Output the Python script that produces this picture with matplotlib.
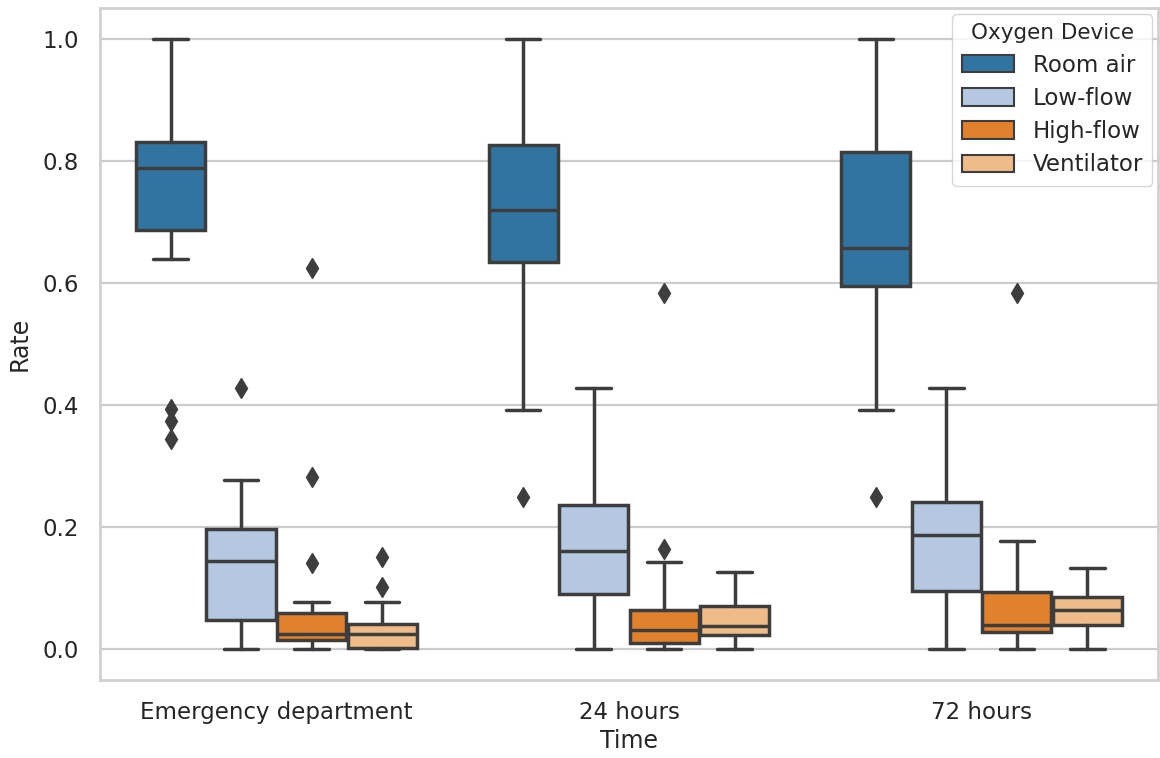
import matplotlib

matplotlib.use("Agg")
import matplotlib.pyplot as plt
import seaborn as sns

# categorías y valores (mediana, cuartiles, bigotes, outliers)
times = ["Emergency department", "24 hours", "72 hours"]
devices = ["Room air", "Low-flow", "High-flow", "Ventilator"]

room_air_med = [0.788, 0.720, 0.657]
room_air_q1 = [0.687, 0.635, 0.595]
room_air_q3 = [0.831, 0.826, 0.815]
room_air_lo = [0.639, 0.392, 0.392]
room_air_hi = [1.0, 1.0, 1.0]
room_air_out = [[0.394, 0.374, 0.345], [0.249], [0.249]]

low_flow_med = [0.145, 0.161, 0.188]
low_flow_q1 = [0.048, 0.090, 0.096]
low_flow_q3 = [0.197, 0.236, 0.242]
low_flow_lo = [0.0, 0.0, 0.0]
low_flow_hi = [0.277, 0.428, 0.428]
low_flow_out = [[0.428], [], []]

high_flow_med = [0.026, 0.031, 0.040]
high_flow_q1 = [0.016, 0.011, 0.029]
high_flow_q3 = [0.060, 0.064, 0.094]
high_flow_lo = [0.0, 0.0, 0.0]
high_flow_hi = [0.077, 0.143, 0.178]
high_flow_out = [[0.624, 0.282, 0.142], [0.583, 0.165], [0.583]]

vent_med = [0.026, 0.039, 0.064]
vent_q1 = [0.002, 0.023, 0.040]
vent_q3 = [0.042, 0.071, 0.086]
vent_lo = [0.0, 0.0, 0.0]
vent_hi = [0.078, 0.127, 0.134]
vent_out = [[0.151, 0.102], [], []]

series = [
    (room_air_med, room_air_q1, room_air_q3, room_air_lo, room_air_hi, room_air_out),
    (low_flow_med, low_flow_q1, low_flow_q3, low_flow_lo, low_flow_hi, low_flow_out),
    (high_flow_med, high_flow_q1, high_flow_q3, high_flow_lo, high_flow_hi, high_flow_out),
    (vent_med, vent_q1, vent_q3, vent_lo, vent_hi, vent_out),
]

sns.set_theme(style="whitegrid")
colors = sns.color_palette("tab20", 4, desat=0.75)
gray = "#3d3d3d"
text_color = "#262626"

fig = plt.figure(figsize=(11.6, 7.58), dpi=100)
ax = fig.add_axes([0.0862, 0.103, 0.912, 0.886])

group_width = 0.8
each = group_width / len(devices)
offsets = [-group_width / 2 + each * (k + 0.5) for k in range(len(devices))]

for k, (med, q1, q3, lo, hi, out) in enumerate(series):
    stats = []
    for i in range(len(times)):
        stats.append({
            "med": med[i], "q1": q1[i], "q3": q3[i],
            "whislo": lo[i], "whishi": hi[i], "fliers": out[i],
        })
    positions = [i + offsets[k] for i in range(len(times))]
    ax.bxp(
        stats,
        positions=positions,
        widths=each * 0.98,
        patch_artist=True,
        manage_ticks=False,
        boxprops=dict(facecolor=colors[k], edgecolor=gray, linewidth=2.5),
        medianprops=dict(color=gray, linewidth=2.5),
        whiskerprops=dict(color=gray, linewidth=2.5),
        capprops=dict(color=gray, linewidth=2.5),
        flierprops=dict(marker="d", markerfacecolor=gray, markeredgecolor=gray,
                        markersize=10.5),
    )

ax.set_xlim(-0.5, len(times) - 0.5)
ax.set_ylim(-0.05, 1.05)
ax.set_xticks(range(len(times)))
ax.set_xticklabels(times)
ax.set_yticks([0.0, 0.2, 0.4, 0.6, 0.8, 1.0])
ax.tick_params(axis="both", labelsize=16.5, colors=text_color, pad=9)
ax.xaxis.grid(False)
ax.yaxis.grid(True, color="#cccccc", linewidth=1.6)
for spine in ax.spines.values():
    spine.set_color("#d0d0d0")
    spine.set_linewidth(2.0)
ax.set_xlabel("Time", fontsize=17, color=text_color, labelpad=4)
ax.set_ylabel("Rate", fontsize=17, color=text_color, labelpad=8)

handles = [
    matplotlib.patches.Patch(facecolor=colors[k], edgecolor=gray, linewidth=1.5, label=d)
    for k, d in enumerate(devices)
]
leg = ax.legend(handles=handles, title="Oxygen Device", loc="upper right",
                fontsize=16.5, title_fontsize=15.5, handlelength=2.3,
                handleheight=0.8, labelspacing=0.45, borderaxespad=0.25)

fig.savefig("out.png", dpi=100)
